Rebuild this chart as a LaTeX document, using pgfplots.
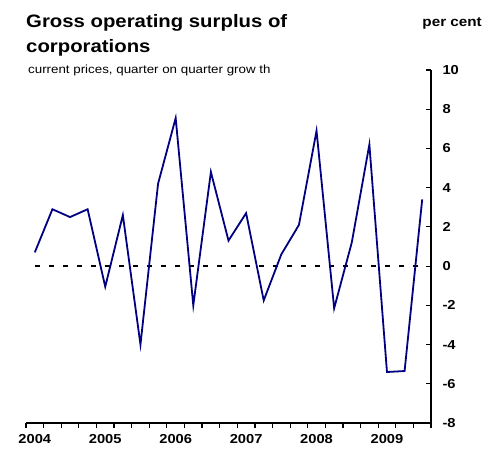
\documentclass[border=0pt]{standalone}
\usepackage{pgfplots}
\pgfplotsset{compat=1.18}
\usepackage{fontspec}
\setmainfont{Liberation Sans}[FakeStretch=1.13]
\definecolor{navyline}{RGB}{0,0,128}

\pgfplotstableread{
q  v
0  0.7
1  2.9
2  2.5
3  2.9
4  -1.05
5  2.6
6  -4.0
7  4.2
8  7.55
9  -2.0
10 4.8
11 1.3
12 2.7
13 -1.75
14 0.6
15 2.1
16 6.9
17 -2.15
18 1.2
19 6.2
20 -5.4
21 -5.35
22 3.4
}\gos

\begin{document}
\begin{tikzpicture}
% page frame, 490 x 450
\path (0pt,0pt) rectangle (490pt,450pt);
\node[anchor=base west,font=\bfseries\fontsize{18}{18}\selectfont,inner sep=0pt] at (26pt,422pt) {Gross operating surplus of};
\node[anchor=base west,font=\bfseries\fontsize{18}{18}\selectfont,inner sep=0pt] at (26pt,397pt) {corporations};
\node[anchor=base west,font=\fontsize{11.8}{11.8}\selectfont,inner sep=0pt] at (28pt,376pt) {current prices, quarter on quarter grow th};
\node[anchor=base east,font=\bfseries\fontsize{13.5}{13.5}\selectfont,inner sep=0pt] at (482pt,423pt) {per cent};
\begin{axis}[
  at={(26pt,27pt)}, anchor=south west,
  scale only axis, width=405pt, height=353pt,
  xmin=-0.5, xmax=22.5, ymin=-8, ymax=10,
  axis x line=bottom, axis y line=right,
  axis line style={line width=1.4pt,-},
  every tick/.style={black,line width=1.2pt},
  major tick length=5pt,
  xtick={-0.5,0.5,...,22.5}, xticklabels={},
  xtick align=outside,
  extra x ticks={0,4,8,12,16,20},
  extra x tick labels={2004,2005,2006,2007,2008,2009},
  extra x tick style={major tick length=0pt, tick label style={yshift=-8pt}},
  ytick={-8,-6,...,10},
  ytick align=inside,
  tick label style={font=\bfseries\fontsize{13}{13}\selectfont},
  /pgf/number format/assume math mode=true,
  yticklabel style={xshift=8pt},
  clip=false,
]
\addplot[black, line width=2.2pt, dash pattern=on 5pt off 9pt, forget plot] coordinates {(0,0) (22,0)};
\addplot[navyline, line width=1.8pt, mark=none] table[x=q,y=v] {\gos};
\end{axis}
\end{tikzpicture}
\end{document}
